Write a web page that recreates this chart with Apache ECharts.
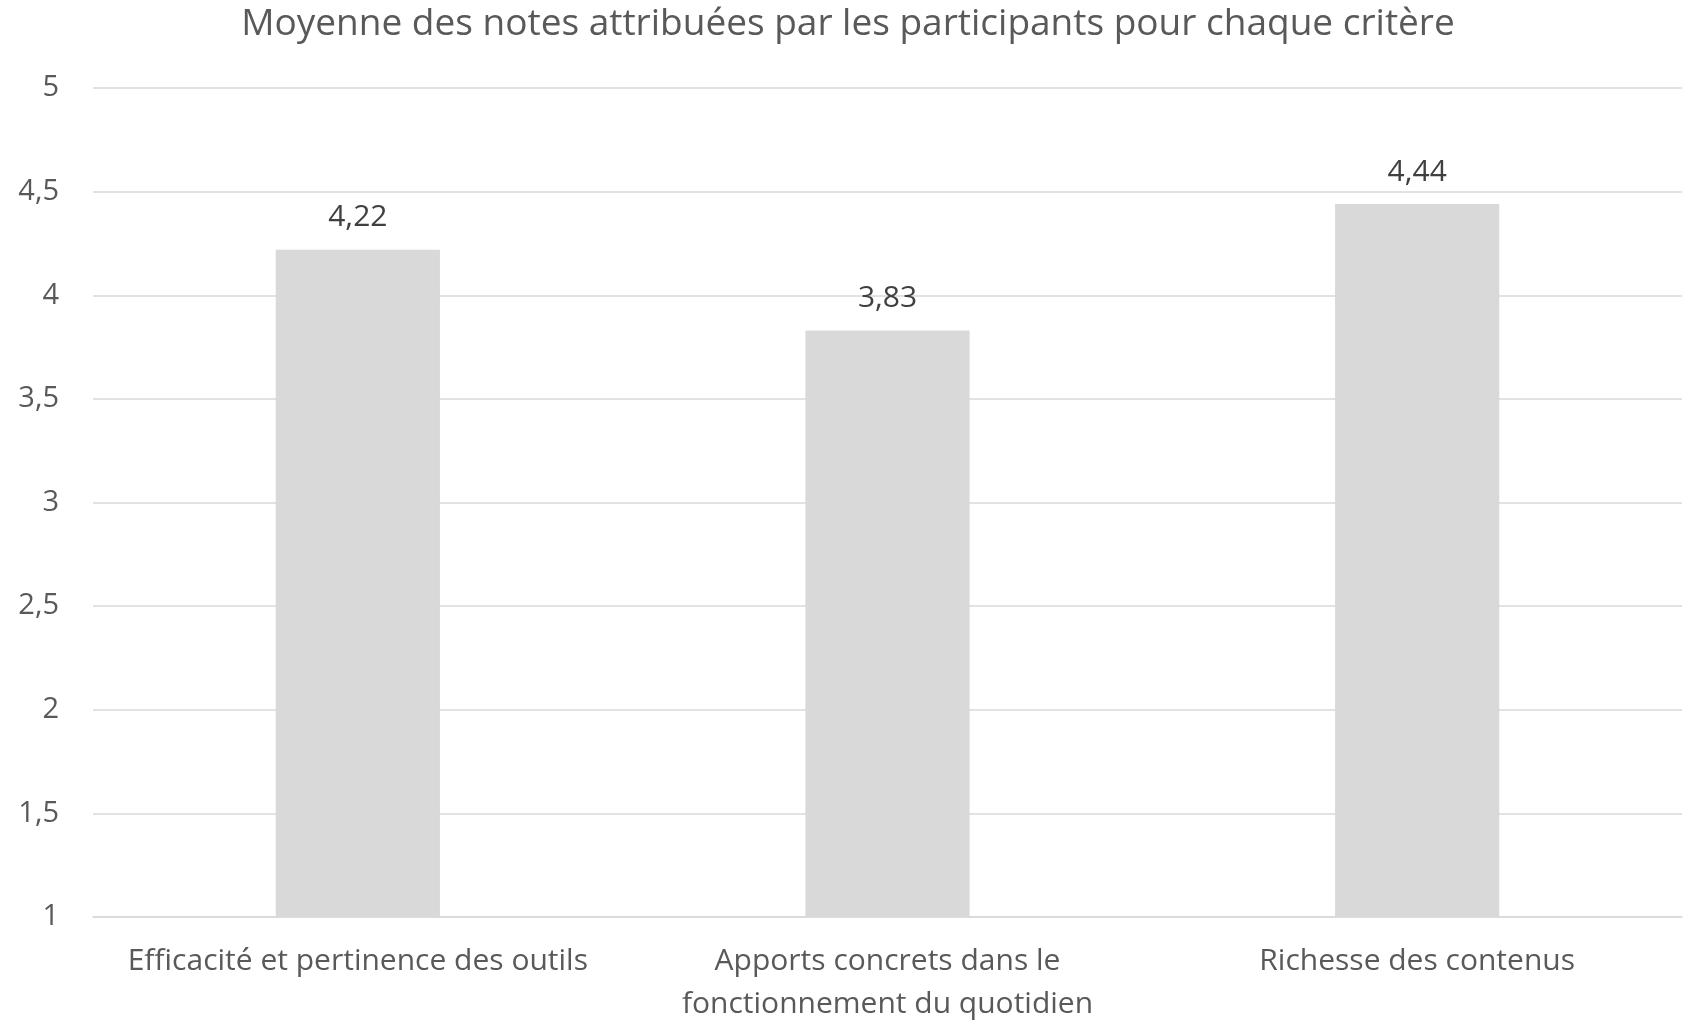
<!DOCTYPE html>
<html>
<head>
<meta charset="utf-8">
<script src="https://cdn.jsdelivr.net/npm/echarts@6/dist/echarts.min.js"></script>
<style>
  html, body { margin: 0; padding: 0; background: #fff; }
  #chart { width: 1696px; height: 1026px; }
</style>
</head>
<body>
<div id="chart"></div>
<script>
// données du graphique
var categories = [
  'Efficacité et pertinence des outils',
  'Apports concrets dans le\nfonctionnement du quotidien',
  'Richesse des contenus'
]
var moyennes = [4.22, 3.83, 4.44]
var yTicks = [1, 1.5, 2, 2.5, 3, 3.5, 4, 4.5, 5]

var fontFamily = '"Open Sans", sans-serif'

var myChart = echarts.init(document.getElementById('chart'))

myChart.setOption({
  animation: false,
  title: {
    text: 'Moyenne des notes attribuées par les participants pour chaque critère',
    left: 'center',
    top: 1,
    textStyle: {
      fontFamily: fontFamily,
      fontSize: 37,
      fontWeight: 400,
      color: '#595959'
    }
  },
  grid: {
    left: 93,
    right: 14,
    top: 88,
    bottom: 91
  },
  xAxis: {
    type: 'category',
    data: categories,
    axisLine: { show: true, lineStyle: { color: '#d9d9d9', width: 1.5 } },
    axisTick: { show: false },
    axisLabel: {
      margin: 23,
      fontFamily: fontFamily,
      fontSize: 30,
      lineHeight: 43,
      color: '#595959',
      interval: 0
    }
  },
  yAxis: {
    type: 'value',
    min: yTicks[0],
    max: yTicks[yTicks.length - 1],
    interval: 0.5,
    axisLine: { show: false },
    axisTick: { show: false },
    splitLine: { lineStyle: { color: '#d9d9d9', width: 1.5 } },
    axisLabel: {
      margin: 34,
      fontFamily: fontFamily,
      fontSize: 29,
      color: '#595959',
      formatter: function (v) { return String(v).replace('.', ',') }
    }
  },
  series: [
    {
      type: 'bar',
      data: moyennes,
      barCategoryGap: '69%',
      itemStyle: { color: '#d9d9d9' },
      label: {
        show: true,
        position: 'top',
        distance: 17,
        fontFamily: fontFamily,
        fontSize: 30,
        color: '#404040',
        formatter: function (p) { return p.value.toFixed(2).replace('.', ',') }
      }
    }
  ]
})
</script>
</body>
</html>
